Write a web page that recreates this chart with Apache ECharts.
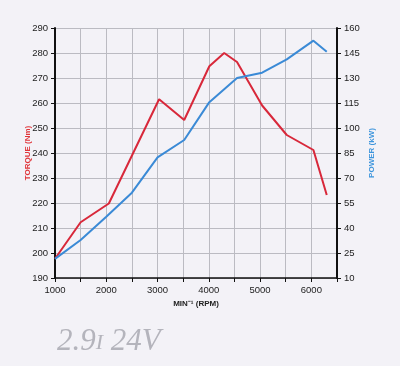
<!DOCTYPE html>
<html><head><meta charset="utf-8">
<script src="https://cdn.jsdelivr.net/npm/echarts@6/dist/echarts.min.js"></script>
<style>html,body{margin:0;padding:0;background:#f3f2f7;}#c{width:400px;height:366px;}</style>
</head><body><div id="c"></div>
<script>
const torqueRpm = [1000, 1500, 2050, 3030, 3520, 4010, 4300, 4550, 5040, 5520, 6040, 6300];
const torqueNm = [197.7, 212.3, 219.8, 261.5, 253.2, 274.7, 280.0, 276.4, 259.0, 247.2, 241.2, 223.2];
const powerRpm = [1000, 1500, 2000, 2500, 3000, 3520, 4010, 4550, 5040, 5520, 6040, 6300];
const powerKw = [21.5, 32.8, 46.8, 61.2, 82.4, 92.8, 115.5, 130.0, 133.2, 141.2, 152.4, 145.8];
const leftTicks = [190, 200, 210, 220, 230, 240, 250, 260, 270, 280, 290];
const rightTicks = [10, 25, 40, 55, 70, 85, 100, 115, 130, 145, 160];
const xLabels = [1000, 2000, 3000, 4000, 5000, 6000];

const chart = echarts.init(document.getElementById('c'));
const lbl = {fontFamily: 'Liberation Sans, Arial, sans-serif', fontSize: 9.5, color: '#222'};
chart.setOption({
  backgroundColor: '#f3f2f7',
  animation: false,
  grid: {left: 55, right: 63, top: 28, bottom: 88},
  xAxis: {
    type: 'value', min: 1000, max: 6500, interval: 500,
    axisLine: {lineStyle: {color: '#111', width: 1.5}},
    axisTick: {show: true, length: 4, lineStyle: {color: '#111'}},
    splitLine: {lineStyle: {color: '#bbbbc2', width: 1}},
    axisLabel: Object.assign({}, lbl, {margin: 7, formatter: v => xLabels.includes(v) ? String(v) : ''}),
    name: 'MIN⁻¹ (RPM)', nameLocation: 'middle', nameGap: 22,
    nameTextStyle: {fontFamily: 'Liberation Sans, Arial', fontSize: 8, fontWeight: 'bold', color: '#222'}
  },
  yAxis: [{
    type: 'value', min: 190, max: 290, interval: 10, position: 'left',
    axisLine: {show: true, lineStyle: {color: '#111', width: 2}},
    axisTick: {show: true, length: 4, lineStyle: {color: '#111'}},
    splitLine: {lineStyle: {color: '#bbbbc2', width: 1}},
    axisLabel: Object.assign({}, lbl, {margin: 7}),
    name: 'TORQUE (Nm)', nameLocation: 'middle', nameGap: 23, nameRotate: 90, nameMoveOverlap: false,
    nameTextStyle: {fontFamily: 'Liberation Sans, Arial', fontSize: 8, fontWeight: 'bold', color: '#e0353a'}
  }, {
    type: 'value', min: 10, max: 160, interval: 15, position: 'right',
    axisLine: {show: true, lineStyle: {color: '#111', width: 2}},
    axisTick: {show: true, length: 4, lineStyle: {color: '#111'}},
    splitLine: {show: false},
    axisLabel: Object.assign({}, lbl, {margin: 7}),
    name: 'POWER (kW)', nameLocation: 'middle', nameGap: 31, nameRotate: 90, nameMoveOverlap: false,
    nameTextStyle: {fontFamily: 'Liberation Sans, Arial', fontSize: 8, fontWeight: 'bold', color: '#3d95dc'}
  }],
  series: [{
    type: 'line', yAxisIndex: 0, showSymbol: false, symbol: 'none',
    data: torqueRpm.map((r, i) => [r, torqueNm[i]]),
    lineStyle: {color: '#d8283a', width: 2}
  }, {
    type: 'line', yAxisIndex: 1, showSymbol: false, symbol: 'none',
    data: powerRpm.map((r, i) => [r, powerKw[i]]),
    lineStyle: {color: '#3a8ad6', width: 2}
  }],
  graphic: [{
    type: 'text', left: 57, top: 326,
    style: {
      text: '{a|2.9}{b|I}{a| 24V}',
      rich: {
        a: {fontFamily: 'Liberation Serif, serif', fontStyle: 'italic', fontSize: 31, fill: '#b4b4bc'},
        b: {fontFamily: 'Liberation Serif, serif', fontStyle: 'italic', fontSize: 22, fill: '#b4b4bc', verticalAlign: 'bottom', padding: [0, 0, 3, 0]}
      }
    }
  }]
});
</script></body></html>
